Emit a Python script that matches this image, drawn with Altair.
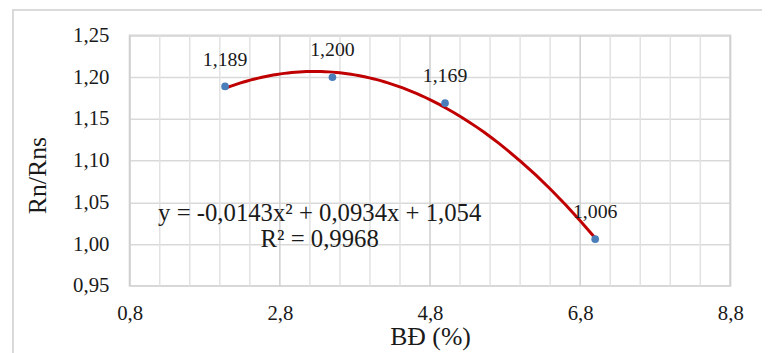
import altair as alt
import pandas as pd

# Data
bd_values = [2.07, 3.5, 5.0, 7.0]
ratio_values = [1.189, 1.200, 1.169, 1.006]
point_labels = ["1,189", "1,200", "1,169", "1,006"]

x_major_ticks = [0.8, 2.8, 4.8, 6.8, 8.8]
x_minor_ticks = [round(0.8 + 0.4 * i, 1) for i in range(21) if i % 5]
y_ticks = [0.95, 1.00, 1.05, 1.10, 1.15, 1.20, 1.25]

equation_lines = ["y = -0,0143x² + 0,0934x + 1,054", "R² = 0,9968"]

df = pd.DataFrame({"x": bd_values, "y": ratio_values, "label": point_labels})
eq_df = pd.DataFrame({"text": equation_lines, "row": [0, 1]})
major_df = pd.DataFrame({"gx": x_major_ticks})
minor_df = pd.DataFrame({"gx": x_minor_ticks})

FONT = "Liberation Serif"
TXT = "#1a1a1a"

xscale = alt.Scale(domain=[0.8, 8.8], nice=False, zero=False)
yscale = alt.Scale(domain=[0.95, 1.25], nice=False, zero=False)

comma1 = "replace(format(datum.value, '.1f'), '.', ',')"
comma2 = "replace(format(datum.value, '.2f'), '.', ',')"

x_axis = alt.Axis(values=x_major_ticks, labelExpr=comma1, title="BĐ (%)",
                  grid=False, ticks=False, domain=False, labelPadding=17,
                  labelFlush=False,
                  labelFont=FONT, labelFontSize=21, labelColor=TXT,
                  titleFont=FONT, titleFontSize=26, titleFontWeight="normal",
                  titleColor=TXT, titlePadding=0)
y_axis = alt.Axis(values=y_ticks, labelExpr=comma2, title="Rn/Rns",
                  grid=True, gridColor="#d9d9d9", gridWidth=1.5,
                  ticks=False, domain=False, labelPadding=21, labelFlush=False,
                  labelFont=FONT, labelFontSize=21, labelColor=TXT,
                  titleFont=FONT, titleFontSize=26, titleFontWeight="normal",
                  titleColor=TXT, titleAngle=-90, titleX=-93, titleY=141,
                  titleAlign="center", titleBaseline="middle")

minor_grid = alt.Chart(minor_df).mark_rule(strokeWidth=1.5, color="#e2e2e2").encode(
    x=alt.X("gx:Q", scale=xscale, axis=x_axis),
    y=alt.value(0), y2=alt.value(253),
)
major_grid = alt.Chart(major_df).mark_rule(strokeWidth=1.5, color="#cfcfcf").encode(
    x=alt.X("gx:Q", scale=xscale),
    y=alt.value(0), y2=alt.value(253),
)

base = alt.Chart(df)

trend = base.transform_regression(
    "x", "y", method="poly", order=2, extent=[2.07, 7.0]
).mark_line(color="#c00000", strokeWidth=3).encode(
    x=alt.X("x:Q", scale=xscale),
    y=alt.Y("y:Q", scale=yscale, axis=y_axis),
)

points = base.mark_circle(size=60, color="#4a7ebb", opacity=1).encode(
    x=alt.X("x:Q", scale=xscale),
    y=alt.Y("y:Q", scale=yscale),
)

labels = base.mark_text(font=FONT, fontSize=20, color=TXT, dy=-27,
                        baseline="middle").encode(
    x=alt.X("x:Q", scale=xscale),
    y=alt.Y("y:Q", scale=yscale),
    text="label:N",
)

eq = alt.Chart(eq_df).mark_text(font=FONT, fontSize=25, color=TXT,
                                align="center", baseline="middle").encode(
    x=alt.value(192),
    y=alt.value(179),
    text="text:N",
).transform_filter("datum.row == 0")

eq2 = alt.Chart(eq_df).mark_text(font=FONT, fontSize=25, color=TXT,
                                 align="center", baseline="middle").encode(
    x=alt.value(192),
    y=alt.value(206),
    text="text:N",
).transform_filter("datum.row == 1")

border = alt.Chart(df).mark_rect(fill=None, stroke="#d9d9d9",
                                 strokeWidth=1.5).encode(
    x=alt.value(-118), x2=alt.value(700),
    y=alt.value(-26), y2=alt.value(400),
)

chart = alt.layer(minor_grid, major_grid, trend, points, labels, eq, eq2,
                  border).properties(
    width=607, height=253,
    autosize=alt.AutoSizeParams(type="none"),
    padding={"left": 123, "top": 26, "right": 32, "bottom": 66},
).configure_view(stroke="#d4d4d4", strokeWidth=2)

chart.save("out.html", embed_options={"renderer": "svg", "actions": False})
